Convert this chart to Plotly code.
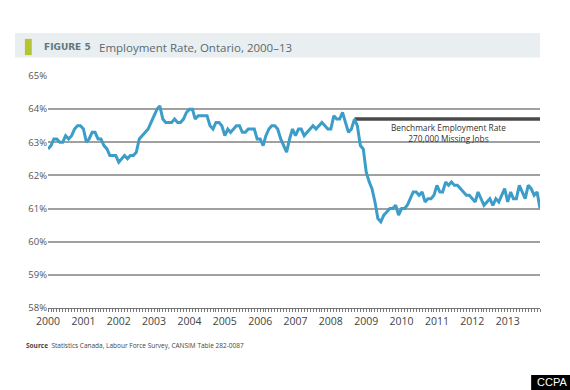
import pandas as pd
import plotly.graph_objects as go

start_month = "2000-01-01"
employment_rate = [
    62.8, 62.9, 63.1, 63.1, 63.0, 63.0, 63.2, 63.1, 63.2, 63.4, 63.5, 63.5,
    63.4, 63.0, 63.1, 63.3, 63.3, 63.1, 63.1, 62.9, 62.8, 62.6, 62.6, 62.6,
    62.4, 62.5, 62.6, 62.5, 62.6, 62.6, 62.7, 63.1, 63.2, 63.3, 63.4, 63.6,
    63.8, 64.0, 64.1, 63.7, 63.6, 63.6, 63.6, 63.7, 63.6, 63.6, 63.7, 63.9,
    64.0, 64.0, 63.7, 63.8, 63.8, 63.8, 63.8, 63.5, 63.4, 63.6, 63.6, 63.5,
    63.2, 63.4, 63.3, 63.4, 63.5, 63.5, 63.3, 63.3, 63.4, 63.4, 63.4, 63.1,
    63.1, 62.9, 63.2, 63.4, 63.5, 63.5, 63.4, 63.1, 62.9, 62.7, 63.1, 63.4,
    63.2, 63.4, 63.4, 63.2, 63.3, 63.4, 63.5, 63.4, 63.5, 63.6, 63.5, 63.4,
    63.4, 63.8, 63.7, 63.7, 63.9, 63.6, 63.3, 63.4, 63.7, 63.5, 62.9, 62.8,
    62.1, 61.8, 61.6, 61.2, 60.7, 60.6, 60.8, 60.9, 61.0, 61.0, 61.1, 60.8,
    61.0, 61.0, 61.1, 61.3, 61.5, 61.5, 61.4, 61.5, 61.2, 61.3, 61.3, 61.4,
    61.7, 61.5, 61.5, 61.8, 61.7, 61.8, 61.7, 61.7, 61.6, 61.5, 61.4, 61.4,
    61.3, 61.2, 61.5, 61.3, 61.1, 61.2, 61.3, 61.1, 61.3, 61.2, 61.4, 61.6,
    61.2, 61.5, 61.3, 61.3, 61.7, 61.5, 61.3, 61.7, 61.6, 61.4, 61.5, 61.0,
]
benchmark_start = "2008-09-01"
benchmark_rate = 63.7
benchmark_label = "Benchmark Employment Rate<br>270,000 Missing Jobs"
year_ticks = list(range(2000, 2014))
y_ticks = [58, 59, 60, 61, 62, 63, 64, 65]

months = pd.date_range(start_month, periods=len(employment_rate), freq="MS")
end_month = months[-1]

FONT = "Open Sans"
fig = go.Figure()

fig.add_trace(go.Scatter(
    x=[pd.Timestamp(benchmark_start), end_month], y=[benchmark_rate, benchmark_rate],
    mode="lines", line=dict(color="#4a4a4a", width=3.5), hoverinfo="skip",
))
fig.add_trace(go.Scatter(
    x=months, y=employment_rate, mode="lines",
    line=dict(color="#3b9dc8", width=3),
))

fig.update_layout(
    width=570, height=390,
    margin=dict(l=48, r=30, t=76, b=82),
    paper_bgcolor="white", plot_bgcolor="white",
    showlegend=False,
    font=dict(family=FONT, color="#555555"),
    xaxis=dict(
        type="date",
        range=[months[0], end_month],
        tickvals=[pd.Timestamp(f"{y}-01-01") for y in year_ticks],
        ticktext=[str(y) for y in year_ticks],
        showgrid=False, zeroline=False,
        showline=True, linecolor="#777777", linewidth=1,
        ticks="outside", ticklen=3, tickcolor="#777777",
        minor=dict(dtick="M1", ticks="outside", ticklen=3, tickcolor="#777777", showgrid=False),
        tickfont=dict(size=10.5, color="#444444"),
    ),
    yaxis=dict(
        range=[58, 65],
        tickvals=y_ticks,
        ticktext=[f"{v}%" for v in y_ticks],
        showgrid=True, gridcolor="#a0a0a0", gridwidth=1.5,
        zeroline=False, showline=False,
        tickfont=dict(size=9.5, color="#555555"),
        ticks="",
    ),
)

# title bar
fig.add_shape(type="rect", xref="paper", yref="paper",
              x0=-0.067, x1=1.0, y0=1.08, y1=1.185,
              fillcolor="#e9eef1", line=dict(width=0), layer="below")
fig.add_shape(type="rect", xref="paper", yref="paper",
              x0=-0.047, x1=-0.033, y0=1.09, y1=1.16,
              fillcolor="#b5c433", line=dict(width=0))
fig.add_annotation(xref="paper", yref="paper", x=-0.012, y=1.125,
                   xanchor="left", yanchor="middle", showarrow=False,
                   text="<b>FIGURE 5</b>",
                   font=dict(family="DejaVu Sans", size=9, color="#5e7880"))
fig.add_annotation(xref="paper", yref="paper", x=0.1, y=1.125,
                   xanchor="left", yanchor="middle", showarrow=False,
                   text="Employment Rate, Ontario, 2000–13",
                   font=dict(family=FONT, size=11.5, color="#5a6a70"))

# benchmark label
fig.add_annotation(x=pd.Timestamp("2011-05-01"), y=63.28, showarrow=False,
                   text=benchmark_label, align="center",
                   font=dict(family=FONT, size=8.3, color="#333333"))

# source
fig.add_annotation(xref="paper", yref="paper", x=-0.048, y=-0.16,
                   xanchor="left", yanchor="middle", showarrow=False,
                   text="<b>Source</b>  Statistics Canada, Labour Force Survey, CANSIM Table 282-0087",
                   font=dict(family=FONT, size=6.5, color="#444444"))

# CCPA tag
fig.add_shape(type="rect", xref="paper", yref="paper",
              x0=0.982, x1=1.07, y0=-0.353, y1=-0.289,
              fillcolor="black", line=dict(width=0))
fig.add_annotation(xref="paper", yref="paper", x=1.024, y=-0.321,
                   xanchor="center", yanchor="middle", showarrow=False,
                   text="CCPA", font=dict(family="Liberation Sans", size=11, color="white"))

fig.write_html("out.html",
               config={"displayModeBar": False},
               post_script="document.body.style.margin='0';document.body.style.overflow='hidden';")
